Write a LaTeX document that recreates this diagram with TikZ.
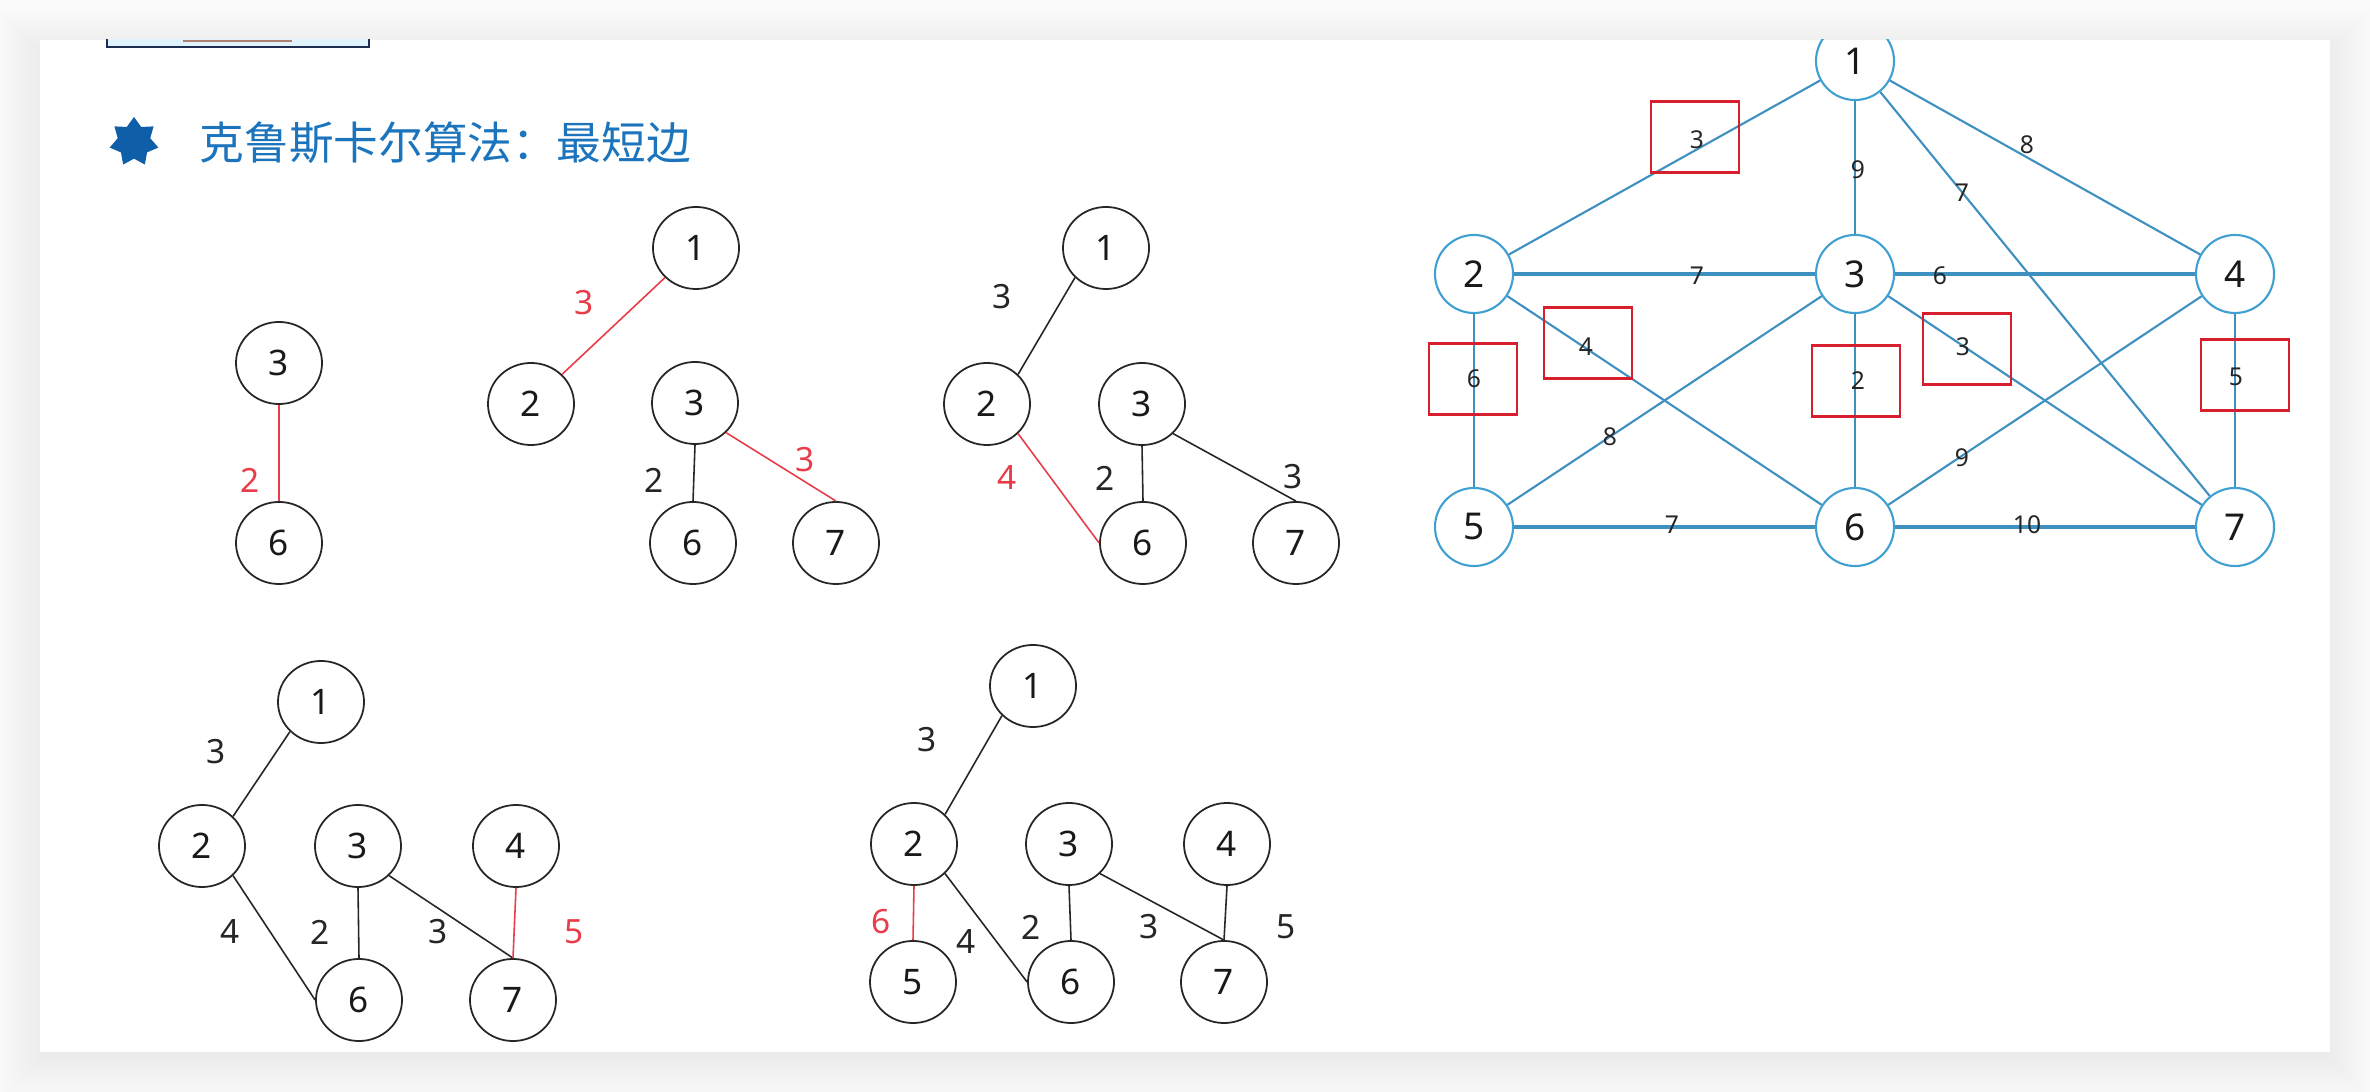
\documentclass[tikz,border=0pt]{standalone}
\usepackage{fontspec}
\setmainfont{Noto Sans}
\newfontfamily\cjkfont{Noto Sans CJK SC}
\usetikzlibrary{shapes.geometric}
\definecolor{titleblue}{RGB}{28,117,188}
\definecolor{starblue}{RGB}{14,94,168}
\definecolor{nodeblue}{RGB}{64,160,210}
\definecolor{edgeblue}{RGB}{62,144,192}
\definecolor{boxred}{RGB}{215,30,45}
\definecolor{lred}{RGB}{232,60,72}
\definecolor{navyline}{RGB}{30,44,80}
\definecolor{lightcyan}{RGB}{222,243,251}
\definecolor{brownline}{RGB}{176,128,112}
\tikzset{
 gn/.style={ellipse, draw=black!85, line width=0.5pt, minimum width=0.86cm, minimum height=0.82cm, inner sep=0pt, font=\fontsize{10}{12}\selectfont, text=black!90},
 ge/.style={draw=black!85, line width=0.45pt},
 gr/.style={draw=lred, line width=0.45pt},
 gl/.style={inner sep=0pt, font=\fontsize{9.5}{11}\selectfont, text=black!85},
 glr/.style={gl, text=lred},
 rn/.style={circle, draw=nodeblue, line width=0.6pt, minimum size=0.78cm, inner sep=0pt, font=\fontsize{10.5}{12}\selectfont, text=black!90},
 re/.style={draw=edgeblue, line width=0.6pt},
 reh/.style={draw=edgeblue, line width=0.9pt},
 rl/.style={inner sep=0pt, font=\fontsize{7}{8}\selectfont, text=black!85},
 rbox/.style={draw=boxred, line width=0.7pt, minimum width=0.88cm, minimum height=0.71cm, inner sep=0pt},
}
\begin{document}
\begin{tikzpicture}[x=0.01cm,y=-0.01cm]
\useasboundingbox (0,0) rectangle (2370,1092);
% background and shadow
\fill[white] (0,0) rectangle (2370,1092);
\fill[black!2] (0,0) rectangle (2370,1092);
\foreach \s in {40,37,...,1} {
  \fill[black, opacity=0.0045] ({40-\s},{40-\s+10}) rectangle ({2330+\s},{1052+\s+6});
}
\fill[white] (40,40) rectangle (2330,1052);
\begin{scope}
\clip (40,40) rectangle (2330,1052);
% top-left box fragment
\fill[lightcyan] (107,0) rectangle (369,47);
\draw[navyline, line width=0.8pt] (107,0) -- (107,47) -- (369,47) -- (369,0);
\draw[brownline, line width=0.5pt] (183,41) -- (292,41);
% title
\node[star, star points=7, star point ratio=1.5, fill=starblue, minimum size=0.5cm, inner sep=0pt] (star) at (134,142) {};
\node[anchor=west, inner sep=0pt, text=titleblue, font=\cjkfont\fontsize{12.7}{15}\selectfont] (title) at (199,143) {克鲁斯卡尔算法：最短边};

% Graph A
\node[gn] (a3) at (279,363) {3};
\node[gn] (a6) at (279,543) {6};
\draw[gr] (a3.south) -- (a6.north);
\node[glr] (la36) at (250,480) {2};

% Graph B
\node[gn] (b1) at (696,248) {1};
\node[gn] (b2) at (531,404) {2};
\node[gn] (b3) at (695,403) {3};
\node[gn] (b6) at (693,543) {6};
\node[gn] (b7) at (836,543) {7};
\draw[gr] (b1.south west) -- (b2.north east);
\draw[ge] (b3.south) -- (b6.north);
\draw[gr] (b3.south east) -- (b7.north);
\node[glr] (lb12) at (584,303) {3};
\node[gl] (lb36) at (654,480) {2};
\node[glr] (lb37) at (805,460) {3};

% Graph C
\node[gn] (c1) at (1106,248) {1};
\node[gn] (c2) at (987,404) {2};
\node[gn] (c3) at (1142,404) {3};
\node[gn] (c6) at (1143,543) {6};
\node[gn] (c7) at (1296,543) {7};
\draw[ge] (c1.south west) -- (c2.north east);
\draw[gr] (c2.south east) -- (c6.west);
\draw[ge] (c3.south) -- (c6.north);
\draw[ge] (c3.south east) -- (c7.north);
\node[gl] (lc12) at (1002,297) {3};
\node[glr] (lc26) at (1007,478) {4};
\node[gl] (lc36) at (1105,478) {2};
\node[gl] (lc37) at (1293,477) {3};

% Graph D
\node[gn] (d1) at (321,702) {1};
\node[gn] (d2) at (202,846) {2};
\node[gn] (d3) at (358,846) {3};
\node[gn] (d4) at (516,846) {4};
\node[gn] (d6) at (359,1000) {6};
\node[gn] (d7) at (513,1000) {7};
\draw[ge] (d1.south west) -- (d2.north east);
\draw[ge] (d2.south east) -- (d6.west);
\draw[ge] (d3.south) -- (d6.north);
\draw[ge] (d3.south east) -- (d7.north);
\draw[gr] (d4.south) -- (d7.north);
\node[gl] (ld12) at (216,752) {3};
\node[gl] (ld26) at (230,932) {4};
\node[gl] (ld36) at (320,932) {2};
\node[gl] (ld37) at (438,932) {3};
\node[glr] (ld47) at (574,932) {5};

% Graph E
\node[gn] (e1) at (1033,686) {1};
\node[gn] (e2) at (914,844) {2};
\node[gn] (e3) at (1069,844) {3};
\node[gn] (e4) at (1227,844) {4};
\node[gn] (e5) at (913,982) {5};
\node[gn] (e6) at (1071,982) {6};
\node[gn] (e7) at (1224,982) {7};
\draw[ge] (e1.south west) -- (e2.north east);
\draw[gr] (e2.south) -- (e5.north);
\draw[ge] (e2.south east) -- (e6.west);
\draw[ge] (e3.south) -- (e6.north);
\draw[ge] (e3.south east) -- (e7.north);
\draw[ge] (e4.south) -- (e7.north);
\node[gl] (le12) at (927,740) {3};
\node[glr] (le25) at (881,922) {6};
\node[gl] (le26) at (966,942) {4};
\node[gl] (le36) at (1031,927) {2};
\node[gl] (le37) at (1149,927) {3};
\node[gl] (le47) at (1286,927) {5};

% Right graph
\node[rn] (r1) at (1855,61) {1};
\node[rn] (r2) at (1474,274) {2};
\node[rn] (r3) at (1855,274) {3};
\node[rn] (r4) at (2235,274) {4};
\node[rn] (r5) at (1474,527) {5};
\node[rn] (r6) at (1855,527) {6};
\node[rn] (r7) at (2235,527) {7};
\draw[re] (r1) -- (r2);
\draw[re] (r1) -- (r3);
\draw[re] (r1) -- (r4);
\draw[re] (r1) -- (r7);
\draw[reh] (r2) -- (r3);
\draw[reh] (r3) -- (r4);
\draw[re] (r2) -- (r5);
\draw[re] (r2) -- (r6);
\draw[re] (r3) -- (r5);
\draw[re] (r3) -- (r6);
\draw[re] (r3) -- (r7);
\draw[re] (r4) -- (r6);
\draw[re] (r4) -- (r7);
\draw[reh] (r5) -- (r6);
\draw[reh] (r6) -- (r7);
% red boxes
\node[rbox] (bx12) at (1695,137) {};
\node[rbox] (bx26) at (1588,343) {};
\node[rbox] (bx25) at (1473,379) {};
\node[rbox] (bx36) at (1856,381) {};
\node[rbox] (bx37) at (1967,349) {};
\node[rbox] (bx47) at (2245,375) {};
% labels
\node[rl] (l12) at (1697,140) {3};
\node[rl] (l13) at (1858,170) {9};
\node[rl] (l17) at (1962,193) {7};
\node[rl] (l14) at (2027,145) {8};
\node[rl] (l23) at (1697,276) {7};
\node[rl] (l34) at (1940,276) {6};
\node[rl] (l25) at (1474,379) {6};
\node[rl] (l26) at (1586,347) {4};
\node[rl] (l35) at (1610,437) {8};
\node[rl] (l36) at (1858,381) {2};
\node[rl] (l37) at (1963,347) {3};
\node[rl] (l46) at (1962,458) {9};
\node[rl] (l47) at (2236,377) {5};
\node[rl] (l56) at (1672,525) {7};
\node[rl] (l67) at (2027,525) {10};
\end{scope}
\end{tikzpicture}
\end{document}
